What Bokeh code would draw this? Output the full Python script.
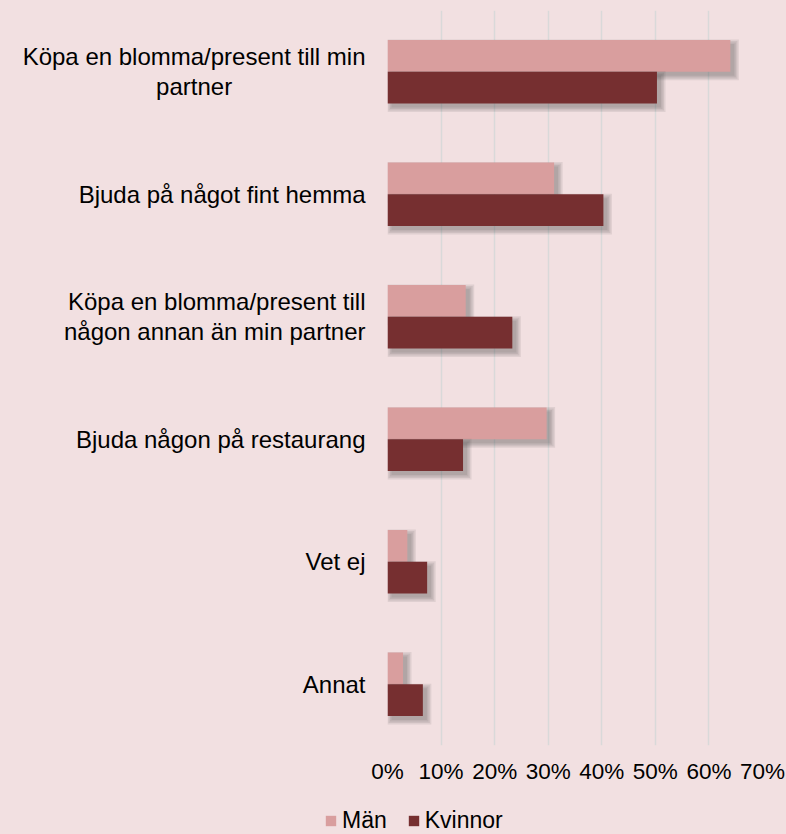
from bokeh.plotting import figure
from bokeh.layouts import column
from bokeh.models import (FactorRange, Range1d, FixedTicker, NumeralTickFormatter,
                          Legend, LegendItem, ColumnDataSource, GlobalInlineStyleSheet)
from bokeh.transform import dodge
from bokeh.embed import file_html
from bokeh.resources import INLINE

# ---- data ----
categories = [
    "Köpa en blomma/present till min\npartner",
    "Bjuda på något fint hemma",
    "Köpa en blomma/present till\nnågon annan än min partner",
    "Bjuda någon på restaurang",
    "Vet ej",
    "Annat",
]
series_names = ["Män", "Kvinnor"]
man = [0.640, 0.311, 0.146, 0.297, 0.037, 0.029]
kvinnor = [0.503, 0.403, 0.233, 0.141, 0.074, 0.066]
x_ticks = [0.0, 0.1, 0.2, 0.3, 0.4, 0.5, 0.6, 0.7]

# ---- style ----
BG = "#F2E0E1"
MAN_C = "#D99E9E"
KV_C = "#762F30"
GRID_C = "#D9D9D9"
FONT = "Liberation Sans"

# multi-line labels are centred line by line in the original: pad the short
# second line with non-breaking spaces so it sits centred under the first
NBSP = "\u00a0"
factors = [c.replace("\npartner", "\npartner" + NBSP * 20) for c in categories]

W, H = 786, 834
LEFT, RIGHT, TOP, BOTTOM = 387, 24, 10, 44
frame_w = W - LEFT - RIGHT
frame_h = 735
px_x = (x_ticks[-1] - x_ticks[0]) / frame_w      # data units per pixel (x)
px_y = len(categories) / frame_h                 # data units per pixel (y)
MAIN_H = TOP + frame_h + BOTTOM

BAR_H = 0.26

p = figure(width=W, height=MAIN_H,
           output_backend="svg", toolbar_location=None,
           y_range=FactorRange(factors=list(reversed(factors))),
           x_range=Range1d(x_ticks[0], x_ticks[-1]),
           min_border_left=LEFT, min_border_right=RIGHT,
           min_border_top=TOP, min_border_bottom=BOTTOM)
p.frame_align = False
p.background_fill_color = BG
p.border_fill_color = BG
p.outline_line_color = None

src = ColumnDataSource(dict(cat=factors, man=man, kvinnor=kvinnor))
BLUR = [0.0, 1.5, 3.0, 4.5]

def shadow_source(vals):
    d = {"cat": factors}
    dx = 4 * px_x
    for i, e in enumerate(BLUR):
        d[f"l{i}"] = [dx - e * px_x for _ in vals]
        d[f"r{i}"] = [v + dx + e * px_x for v in vals]
    return ColumnDataSource(d)

def draw_series(vals, col, offset, color):
    ssrc = shadow_source(vals)
    dy = 4 * px_y
    for i, e in enumerate(BLUR):
        p.hbar(y=dodge("cat", offset - dy, range=p.y_range), left=f"l{i}", right=f"r{i}",
               height=BAR_H + 2 * e * px_y, source=ssrc,
               fill_color="#3A3A3A", fill_alpha=0.10, line_color=None)
    return p.hbar(y=dodge("cat", offset, range=p.y_range), left=0, right=col,
                  height=BAR_H, source=src, fill_color=color, line_color=None)

draw_series(man, "man", BAR_H / 2, MAN_C)
draw_series(kvinnor, "kvinnor", -BAR_H / 2, KV_C)

# axes
p.xaxis.ticker = FixedTicker(ticks=x_ticks)
p.xaxis.formatter = NumeralTickFormatter(format="0%")
p.xaxis.axis_line_color = None
p.xaxis.major_tick_line_color = None
p.xaxis.minor_tick_line_color = None
p.xaxis.major_tick_out = 0
p.xaxis.major_tick_in = 0
p.xaxis.major_label_text_font = FONT
p.xaxis.major_label_text_font_size = "22.5px"
p.xaxis.major_label_text_color = "#000000"
p.xaxis.major_label_standoff = 13

p.yaxis.axis_line_color = None
p.yaxis.major_tick_line_color = None
p.yaxis.major_tick_out = 0
p.yaxis.major_tick_in = 0
p.yaxis.major_label_text_font = FONT
p.yaxis.major_label_text_font_size = "24px"
p.yaxis.major_label_text_color = "#000000"
p.yaxis.major_label_text_line_height = 1.1
p.yaxis.major_label_standoff = 22

p.xgrid.ticker = FixedTicker(ticks=x_ticks)
p.xgrid.grid_line_color = GRID_C
p.xgrid.grid_line_width = 1.5
p.ygrid.grid_line_color = None

# ---- legend strip under the chart ----
lf = figure(width=W, height=H - MAIN_H, output_backend="svg", toolbar_location=None,
            x_range=Range1d(0, 1), y_range=Range1d(0, 1),
            x_axis_type=None, y_axis_type=None,
            min_border_left=0, min_border_right=0, min_border_top=0, min_border_bottom=0)
lf.frame_align = False
lf.background_fill_color = BG
lf.border_fill_color = BG
lf.outline_line_color = None
lf.xgrid.grid_line_color = None
lf.ygrid.grid_line_color = None
# zero-size proxy bars: they only carry the series colours into the legend
lg_man = lf.hbar(y=[0.5], left=[0], right=[0], height=0, fill_color=MAN_C, line_color=None)
lg_kv = lf.hbar(y=[0.5], left=[0], right=[0], height=0, fill_color=KV_C, line_color=None)

legend = Legend(items=[LegendItem(label=series_names[0], renderers=[lg_man], index=0),
                       LegendItem(label=series_names[1], renderers=[lg_kv], index=0)],
                orientation="horizontal", location=(324, 0),
                background_fill_alpha=0, border_line_color=None,
                padding=0, margin=0, spacing=20,
                glyph_width=13, glyph_height=13, label_standoff=5,
                label_text_font=FONT, label_text_font_size="23px",
                label_text_color="#000000")
lf.add_layout(legend, "center")

layout = column(p, lf, spacing=0)
layout.stylesheets = [GlobalInlineStyleSheet(css=f"html, body {{ background: {BG}; }}")]

open("out.html", "w").write(file_html(layout, INLINE))
